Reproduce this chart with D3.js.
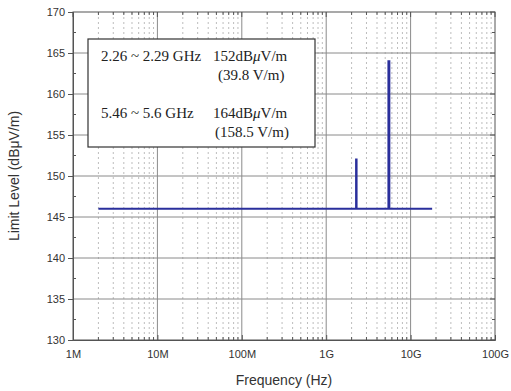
<!doctype html>
<html lang="en">
<head>
    <title></title>
    <script src="https://d3js.org/d3.v7.min.js"></script>
    <style type="text/css">
        body { margin: 0; background: #fff; }
    </style>
</head>
<body>
</body>
<script type="text/javascript">

    var width  = 511;
    var height = 391;

    // limit line: frequency (Hz) and level (dBuV/m)
    var freqs  = [2e6, 2.26e9, 2.26e9, 2.29e9, 2.29e9, 5.46e9, 5.46e9, 5.6e9, 5.6e9, 1.8e10];
    var levels = [146, 146, 152, 152, 146, 146, 164, 164, 146, 146];

    var xTicks = [1e6, 1e7, 1e8, 1e9, 1e10, 1e11];
    var xTickLabels = ["1M", "10M", "100M", "1G", "10G", "100G"];
    var yTicks = [130, 135, 140, 145, 150, 155, 160, 165, 170];

    var noteRows = [
        ["2.26 ~ 2.29 GHz", "152dB", "(39.8 V/m)"],
        ["5.46 ~ 5.6 GHz", "164dB", "(158.5 V/m)"]
    ];

    var pLeft = 73, pRight = 495, pTop = 12, pBottom = 340;

    var x = d3.scaleLog().domain([1e6, 1e11]).range([pLeft, pRight]);
    var y = d3.scaleLinear().domain([130, 170]).range([pBottom, pTop]);

    var svg = d3.select("body")
        .append("svg")
        .attr("width", width)
        .attr("height", height);

    // minor x positions 2..9 in each decade
    var minorX = [];
    xTicks.slice(0, -1).forEach(function (d) {
        for (var k = 2; k <= 9; k++) minorX.push(d * k);
    });
    var minorY = d3.range(132.5, 170, 5);

    svg.append("g").selectAll("line")
        .data(minorX)
        .enter()
        .append("line")
        .attr("x1", d => x(d)).attr("x2", d => x(d))
        .attr("y1", pTop).attr("y2", pBottom)
        .attr("stroke", "#bdbdbd")
        .attr("stroke-width", 1)
        .attr("stroke-dasharray", "2,3");

    svg.append("g").selectAll("line")
        .data(xTicks.slice(1, -1))
        .enter()
        .append("line")
        .attr("x1", d => x(d)).attr("x2", d => x(d))
        .attr("y1", pTop).attr("y2", pBottom)
        .attr("stroke", "#8a8a8a")
        .attr("stroke-width", 1);

    svg.append("g").selectAll("line")
        .data(yTicks.slice(1, -1))
        .enter()
        .append("line")
        .attr("x1", pLeft).attr("x2", pRight)
        .attr("y1", d => y(d)).attr("y2", d => y(d))
        .attr("stroke", "#8a8a8a")
        .attr("stroke-width", 1);

    // axes
    var xAxis = d3.axisBottom(x).tickValues(xTicks).tickSize(-5)
        .tickFormat((d, i) => xTickLabels[i]).tickPadding(10);
    var gx = svg.append("g").attr("transform", "translate(0," + pBottom + ")").call(xAxis);

    var yAxis = d3.axisLeft(y).tickValues(yTicks).tickSize(5).tickPadding(3);
    var gy = svg.append("g").attr("transform", "translate(" + pLeft + ",0)").call(yAxis);

    [gx, gy].forEach(function (g) {
        g.select(".domain").attr("stroke", "#555");
        g.selectAll(".tick line").attr("stroke", "#555");
        g.selectAll("text")
            .attr("fill", "#333")
            .style("font-family", "Liberation Sans, Arial, sans-serif")
            .style("font-size", "11px");
    });

    // minor ticks on all sides
    var tickG = svg.append("g").attr("stroke", "#555");
    tickG.selectAll(".mb").data(minorX).enter().append("line")
        .attr("x1", d => x(d)).attr("x2", d => x(d))
        .attr("y1", pBottom).attr("y2", pBottom - 3);
    tickG.selectAll(".mt").data(minorX).enter().append("line")
        .attr("x1", d => x(d)).attr("x2", d => x(d))
        .attr("y1", pTop).attr("y2", pTop + 3);
    tickG.selectAll(".ml").data(minorY).enter().append("line")
        .attr("x1", pLeft).attr("x2", pLeft + 3)
        .attr("y1", d => y(d)).attr("y2", d => y(d));
    tickG.selectAll(".mr").data(minorY).enter().append("line")
        .attr("x1", pRight).attr("x2", pRight - 3)
        .attr("y1", d => y(d)).attr("y2", d => y(d));
    tickG.selectAll(".Mr").data(yTicks).enter().append("line")
        .attr("x1", pRight).attr("x2", pRight - 5)
        .attr("y1", d => y(d)).attr("y2", d => y(d));
    tickG.selectAll(".Mt").data(xTicks).enter().append("line")
        .attr("x1", d => x(d)).attr("x2", d => x(d))
        .attr("y1", pTop).attr("y2", pTop + 5);

    svg.append("rect")
        .attr("x", pLeft).attr("y", pTop)
        .attr("width", pRight - pLeft).attr("height", pBottom - pTop)
        .attr("fill", "none")
        .attr("stroke", "#555");

    // limit line
    var line = d3.line()
        .x((d, i) => x(freqs[i]))
        .y((d, i) => y(levels[i]));

    svg.append("path")
        .datum(freqs)
        .attr("d", line)
        .attr("fill", "none")
        .attr("stroke", "#2a2f9c")
        .attr("stroke-width", 2);

    // note box
    svg.append("rect")
        .attr("x", 88).attr("y", 39)
        .attr("width", 227).attr("height", 108)
        .attr("fill", "#fff")
        .attr("stroke", "#333")
        .attr("stroke-width", 1.2);

    var note = svg.append("g")
        .style("font-family", "Liberation Serif, Times New Roman, serif")
        .style("font-size", "15px")
        .attr("fill", "#222");

    noteRows.forEach(function (r, i) {
        var by = 61 + i * 57;
        note.append("text").attr("x", 101).attr("y", by).text(r[0]);
        var t = note.append("text").attr("x", 213).attr("y", by).text(r[1]);
        t.append("tspan").style("font-style", "italic").text("\u03bc");
        t.append("tspan").text("V/m");
        note.append("text").attr("x", i === 0 ? 218 : 215).attr("y", by + 19).text(r[2]);
    });

    // axis titles
    svg.append("text")
        .attr("x", (pLeft + pRight) / 2).attr("y", 385)
        .attr("text-anchor", "middle")
        .style("font-family", "Liberation Sans, Arial, sans-serif")
        .style("font-size", "14px")
        .attr("fill", "#333")
        .text("Frequency (Hz)");

    svg.append("text")
        .attr("transform", "translate(19," + (pTop + pBottom) / 2 + ") rotate(-90)")
        .attr("text-anchor", "middle")
        .style("font-family", "Liberation Sans, Arial, sans-serif")
        .style("font-size", "14px")
        .attr("fill", "#333")
        .text("Limit Level (dB\u03bcV/m)");

</script>
</html>
